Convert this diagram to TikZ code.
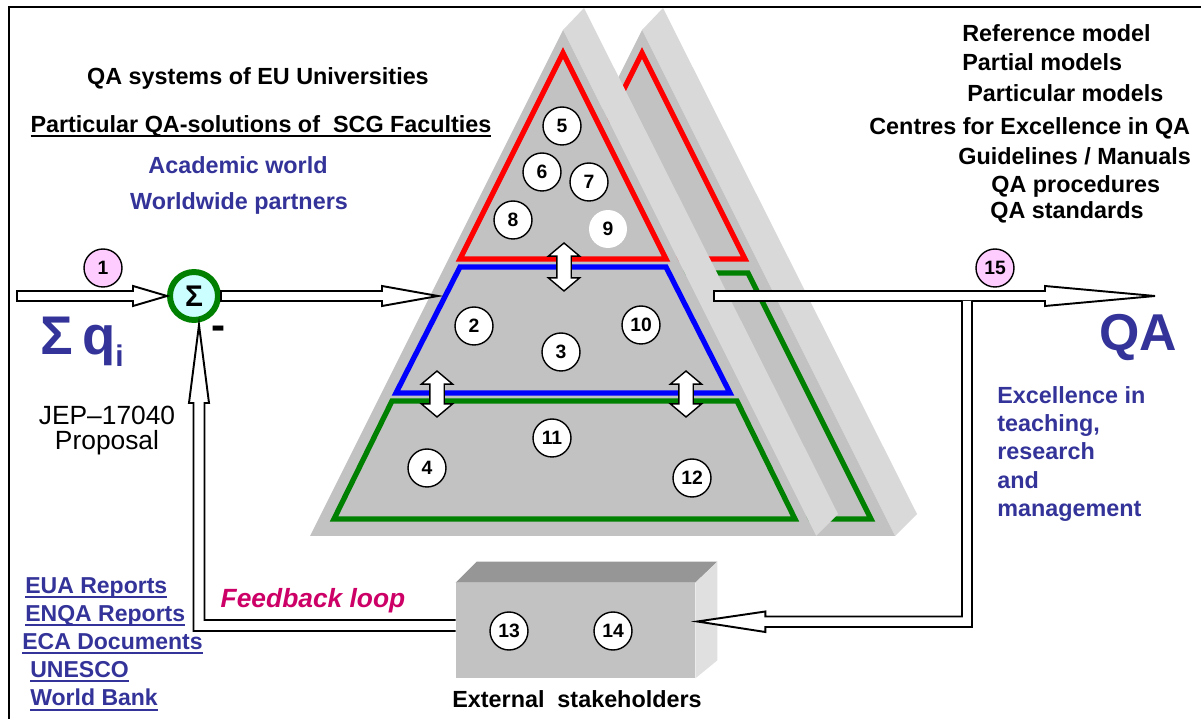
\documentclass[tikz,border=0pt]{standalone}
\usepackage{fontspec}
\setmainfont{Liberation Sans}
\usetikzlibrary{calc,shapes.arrows}
\definecolor{facegray}{RGB}{194,194,194}
\definecolor{stripgray}{RGB}{217,217,217}
\definecolor{boxtop}{RGB}{150,150,150}
\definecolor{boxside}{RGB}{224,224,224}
\definecolor{qablue}{RGB}{51,51,153}
\definecolor{laygreen}{RGB}{0,128,0}
\definecolor{pinkfill}{RGB}{255,204,255}
\definecolor{sumfill}{RGB}{204,255,255}
\definecolor{fbmagenta}{RGB}{204,0,102}
\def\harrow[#1](#2)(#3)(#4){\draw[#1] ($(#2)+(0,-5)$) -- ($(#3)+({0-(#4)},-5)$) -- ++(0,-5) -- (#3) -- ($(#3)+({0-(#4)},10)$) -- ++(0,-5) -- ($(#2)+(0,5)$) -- cycle;}
\newcommand\ulbox[1]{\setbox0=\hbox{#1}\rlap{\vrule height -1.6pt depth 2.7pt width \wd0}\box0}
\tikzset{
	num/.style={circle, draw, fill=white, line width=0.8pt, minimum size=0.76cm, inner sep=0pt, font=\fontsize{11}{12}\selectfont\bfseries},
	pinknum/.style={num, fill=pinkfill},
	blockarrow/.style={draw=black, fill=white, line width=1.1pt, line join=miter},
	updown/.style={double arrow, draw=black, fill=white, line width=0.8pt, rotate=90, minimum width=0pt, inner sep=0.13cm, double arrow head extend=0.17cm, double arrow tip angle=100},
	layer/.style={line width=3pt, line join=miter},
	title/.style={inner sep=0pt, font=\fontsize{13.3}{16}\selectfont\bfseries},
	bluetitle/.style={title, text=qablue},
	link/.style={inner sep=0pt, anchor=west, text=qablue, font=\fontsize{13.1}{16}\selectfont\bfseries},
}

\begin{document}
\begin{tikzpicture}[x=0.02cm, y=-0.02cm]
		%%%%% START %%%%%
		\useasboundingbox (0,0) rectangle (1201,719);
		\draw[line width=1.1pt] (9,719) -- (9,7) -- (1201,7);
		
		% back pyramid
		\fill[stripgray] (642,30) -- (663,8) -- (917,514) -- (895,536) -- cycle;
		\fill[facegray] (642,30) -- (895,536) -- (389,536) -- cycle;
		\draw[layer, red] (642,53) -- (745,259) -- (539,259) -- cycle;
		\draw[layer, laygreen] (536,273) -- (748,273) -- (871,519) -- (413,519) -- cycle;
		
		% front pyramid
		\fill[stripgray] (563,30) -- (584,8) -- (838,514) -- (816,536) -- cycle;
		\fill[facegray] (563,30) -- (816,536) -- (310,536) -- cycle;
		\draw[layer, red] (563,53) -- (666,259) -- (460,259) -- cycle;
		\draw[layer, blue] (460,267) -- (666,267) -- (730,393) -- (396,393) -- cycle;
		\draw[layer, laygreen] (392,401) -- (737,401) -- (795,519) -- (334,519) -- cycle;
		
		\node[updown, minimum height=0.96cm] (ud1) at (564,267) {};
		\node[updown, minimum height=0.92cm] (ud2) at (437,394) {};
		\node[updown, minimum height=0.92cm] (ud3) at (686,394) {};
		
		\node[num] (n5) at (562,126) {5};
		\node[num] (n6) at (542,172) {6};
		\node[num] (n7) at (589,182) {7};
		\node[num] (n8) at (513,220) {8};
		\node[num, draw=none] (n9) at (608,229) {9};
		\node[num] (n2) at (474,326) {2};
		\node[num] (n3) at (561,352) {3};
		\node[num] (n10) at (641,325) {10};
		\node[num] (n11) at (552,438) {11};
		\node[num] (n4) at (427,468) {4};
		\node[num] (n12) at (692,478) {12};
		
		% external stakeholders box
		\node[fill=facegray, minimum width=4.78cm, minimum height=1.9cm, inner sep=0pt] (ext) at (575.5,630.5) {};
		\fill[boxtop] (ext.north west) -- (ext.north east) -- ($(ext.north east)+(22,-21)$) -- ($(ext.north west)+(21,-21)$) -- cycle;
		\fill[boxside] (ext.north east) -- ($(ext.north east)+(22,-21)$) -- ($(ext.south east)+(22,-18)$) -- (ext.south east) -- cycle;
		\node[num] (n13) at (509,631) {13};
		\node[num] (n14) at (613,631) {14};
		\node[title] (exttxt) at (577,699) {External\ \ stakeholders};
		
		% summation point
		\node[circle, draw=laygreen, line width=3.4pt, fill=sumfill, minimum size=0.96cm, inner sep=0pt, font=\fontsize{17}{17}\selectfont\bfseries] (sum) at (194,296) {Σ};
		\node[font=\fontsize{24}{24}\selectfont\bfseries] (minus) at (219,333) {-};
		
		\coordinate (qin) at (17,296);
		\coordinate (pyrin) at (438,296);
		\coordinate (pyrout) at (714,296);
		\coordinate (qatip) at (1155,296);
		\coordinate (brk) at (967,301);
		\coordinate (fbin) at ($(ext.east)+(2,-9)$);
		\coordinate (fbout) at ($(ext.west)+(0,-5)$);
		\coordinate (fbtip) at ($(sum.south)+(5,2)$);
		
		\harrow[blockarrow](qin)(sum.west)(34);
		\harrow[blockarrow](sum.east)(pyrin)(56);
		\harrow[blockarrow](pyrout)(qatip)(110);
		\draw[blockarrow] ($(brk)+(-5,0)$) |- ($(fbin)+(68,-5)$) -- ++(0,-5) -- (fbin) -- ++(68,10.5) -- ++(0,-5) -| ($(brk)+(5,0)$);
		\draw[blockarrow] ($(fbout)+(0,-5.5)$) -| ($(fbtip)+(5.5,78)$) -- ++(4.5,0) -- (fbtip) -- ++(-10,78) -- ++(4.5,0) |- ($(fbout)+(0,5.5)$);
		
		\node[pinknum] (n1) at (103,268) {1};
		\node[pinknum] (n15) at (995,268) {15};
		
		% texts left
		\node[title] (euq) at (258,78) {QA systems of EU Universities};
		\node[title] (scg) at (261,126) {\ulbox{Particular QA-solutions of \ SCG Faculties}};
		\node[bluetitle] (acad) at (238,165) {Academic world};
		\node[bluetitle] (world) at (239,203) {Worldwide partners};
		\node[anchor=west, inner sep=0pt, text=qablue, font=\fontsize{31}{31}\selectfont\bfseries] (sumq) at (40,342) {Σ\,q\raisebox{-0.22em}{\fontsize{17}{17}\selectfont i}};
		\node[align=center, font=\fontsize{15}{14.2}\selectfont] (jep) at (107,431) {JEP–17040\\Proposal};
		\node[text=fbmagenta, font=\fontsize{15}{17}\selectfont\bfseries\itshape] (fb) at (313,601) {Feedback loop};
		\node[link] (eua) at (25,588) {\ulbox{EUA Reports}};
		\node[link] (enqa) at (25,616) {\ulbox{ENQA Reports}};
		\node[link] (eca) at (22,644) {\ulbox{ECA Documents}};
		\node[link] (unesco) at (30,672) {\ulbox{UNESCO}};
		\node[link] (wb) at (30,700) {\ulbox{World Bank}};
		
		% texts right
		\node[title, anchor=west] (refm) at (962,33) {Reference model};
		\node[title, anchor=west] (partial) at (962,62) {Partial models};
		\node[title, anchor=west] (partic) at (967,93) {Particular models};
		\node[title, anchor=west] (centres) at (869,128) {Centres for Excellence in QA};
		\node[title, anchor=west] (guide) at (958,156) {Guidelines / Manuals};
		\node[title, anchor=west] (proc) at (991,186) {QA procedures};
		\node[title, anchor=west] (std) at (990,212) {QA standards};
		\node[anchor=west, inner sep=0pt, text=qablue, font=\fontsize{29.5}{30}\selectfont\bfseries] (qa) at (1099,338) {QA};
		\node[bluetitle, anchor=west, align=left, font=\fontsize{13.3}{16.1}\selectfont\bfseries] (excel) at (997,454) {Excellence in\\teaching,\\research\\and\\management};
		
		%%%%% END %%%%%
\end{tikzpicture}
\end{document}
